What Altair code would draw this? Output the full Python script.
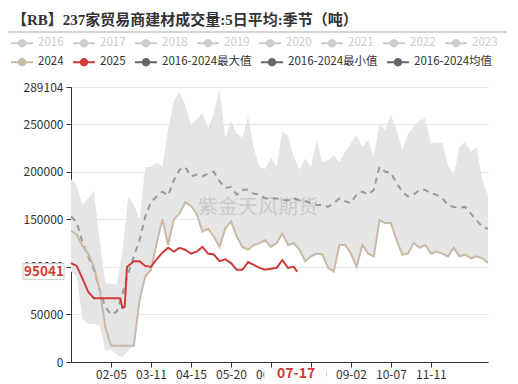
import altair as alt
import pandas as pd

FONT = "Noto Sans CJK SC"
TITLE_FONT = "Liberation Serif, Noto Sans CJK SC"

title_text = "【RB】237家贸易商建材成交量:5日平均:季节（吨）"
watermark = "紫金天风期货"
old_years = ["2016", "2017", "2018", "2019", "2020", "2021", "2022", "2023"]
series_names = ["2024", "2025", "2016-2024最大值", "2016-2024最小值", "2016-2024均值"]
series_colors = ["#c9b9a5", "#d13a3a", "#666666", "#666666", "#666666"]

# day index in a 366-day calendar (0 = 01-01)
days = list(range(0, 361, 5)) + [365]

max_vals = [192000, 186000, 165000, 172000, 180000, 130000, 83000, 82000, 82000, 115000,
            174000, 165000, 150000, 205000, 205000, 210000, 205000, 245000, 275000, 283000,
            270000, 250000, 255000, 262000, 245000, 262000, 286000, 235000, 254000, 240000,
            236000, 258000, 225000, 205000, 203000, 215000, 205000, 242000, 238000, 216000,
            202000, 214000, 205000, 233000, 210000, 212000, 217000, 210000, 221000, 230000,
            238000, 226000, 233000, 216000, 250000, 244000, 260000, 244000, 223000, 240000,
            247000, 254000, 256000, 230000, 231000, 230000, 207000, 196000, 226000, 231000,
            221000, 226000, 191000, 175000]

min_vals = [95000, 90000, 45000, 40000, 40000, 39000, 12000, 13000, 8000, 5000,
            12000, 17000, 60000, 90000, 97000, 125000, 150000, 123000, 150000, 156000,
            168000, 164000, 156000, 137000, 140000, 132000, 121000, 140000, 148000, 132000,
            121000, 118000, 123000, 125000, 128000, 121000, 125000, 135000, 123000, 125000,
            118000, 106000, 111000, 114000, 113000, 99000, 95000, 123000, 123000, 114000,
            100000, 123000, 114000, 111000, 149000, 146000, 146000, 128000, 113000, 114000,
            125000, 120000, 123000, 114000, 116000, 114000, 111000, 120000, 111000, 113000,
            109000, 111000, 109000, 104000]

mean_vals = [153000, 147000, 126000, 111000, 97000, 76000, 58000, 50000, 53000, 71000,
             93000, 111000, 128000, 153000, 168000, 174000, 179000, 175000, 191000, 202000,
             205000, 195000, 197000, 195000, 198000, 200000, 190000, 183000, 184000, 176000,
             181000, 181000, 177000, 176000, 172000, 172000, 172000, 170000, 170000, 172000,
             170000, 169000, 167000, 165000, 165000, 163000, 167000, 172000, 169000, 167000,
             176000, 179000, 176000, 181000, 205000, 200000, 199000, 188000, 179000, 174000,
             176000, 181000, 181000, 177000, 176000, 172000, 165000, 163000, 162000, 163000,
             156000, 149000, 142000, 140000]

y2024 = [138000, 134000, 122000, 114000, 100000, 76000, 37000, 17000, 17000, 17000,
         17000, 17000, 65000, 90000, 97000, 125000, 150000, 123000, 150000, 156000,
         168000, 164000, 156000, 137000, 140000, 132000, 121000, 140000, 148000, 132000,
         121000, 118000, 123000, 125000, 128000, 121000, 125000, 135000, 123000, 125000,
         118000, 106000, 111000, 114000, 113000, 99000, 95000, 123000, 123000, 114000,
         100000, 123000, 114000, 111000, 149000, 146000, 146000, 128000, 113000, 114000,
         125000, 120000, 123000, 114000, 116000, 114000, 111000, 120000, 111000, 113000,
         109000, 111000, 109000, 104000]

days_2025 = [0, 5, 10, 15, 20, 25, 30, 35, 40, 43, 45, 47, 49, 55, 60, 65, 70, 75, 80, 85,
             90, 95, 100, 105, 110, 115, 120, 125, 130, 135, 140, 145, 150, 155, 160, 165,
             170, 175, 180, 185, 190, 195, 198]
y2025 = [104000, 101000, 88000, 74000, 67000, 67000, 67000, 67000, 67000, 67000, 57000,
         58000, 100000, 106000, 106000, 101000, 100000, 108000, 115000, 120000,
         116000, 120000, 118000, 114000, 116000, 121000, 114000, 113000, 106000, 108000,
         104000, 97000, 97000, 105000, 102000, 99000, 97000, 98000, 99000, 107000, 99000,
         100000, 95041]

x_ticks = [35, 70, 105, 140, 175, 210, 245, 280, 315]
y_ticks = [0, 50000, 100000, 150000, 200000, 250000, 289104]
y_max = 289104
last_day = 198
last_day_label = "07-17"
last_value = 95041

TAN = "#c9b9a5"
RED = "#d13a3a"

wide = pd.DataFrame({"day": days, "max": max_vals, "min": min_vals,
                     "mean": mean_vals, "y2024": y2024})
d25 = pd.DataFrame({"day": days_2025, "v": y2025})
ptr = pd.DataFrame({"day": [last_day], "v": [last_value],
                    "lab": [str(last_value)], "xl": [last_day_label]})

xs = alt.Scale(domain=[0, 365], nice=False, zero=False)
ys = alt.Scale(domain=[0, y_max], nice=False)

x_axis = alt.Axis(values=x_ticks,
                  labelExpr="timeFormat(datetime(2024,0,1+datum.value),'%m-%d')",
                  title=None, grid=False, domainColor="#333333", tickColor="#333333",
                  tickSize=5, labelColor="#333333", labelFontSize=12, labelFont=FONT,
                  labelPadding=2, labelFlush=False)
y_axis = alt.Axis(values=y_ticks, format="d", title=None, grid=True, gridColor="#e6e6e6",
                  domainColor="#333333", tickColor="#333333", tickSize=5,
                  labelColor="#333333", labelFontSize=12, labelFont=FONT,
                  labelPadding=3, labelFlush=False)

area = alt.Chart(wide).mark_area(color="#e5e5e5", opacity=1).encode(
    x=alt.X("day:Q", scale=xs, axis=x_axis),
    y=alt.Y("max:Q", scale=ys, axis=y_axis),
    y2="min:Q",
)

mean_line = alt.Chart(wide).mark_line(color="#9a9a9a", strokeWidth=2, strokeDash=[6, 5]).encode(
    x="day:Q", y="mean:Q")
line24 = alt.Chart(wide).mark_line(color=TAN, strokeWidth=2).encode(x="day:Q", y="y2024:Q")
line25 = alt.Chart(d25).mark_line(color=RED, strokeWidth=2).encode(x="day:Q", y="v:Q")

wm = alt.Chart(pd.DataFrame({"t": [watermark]})).mark_text(
    fontSize=20, color="#999999", opacity=0.35, font=FONT).encode(
    x=alt.value(187), y=alt.value(121), text="t:N")

sym = "M-1,-0.09H1V0.09H-1Z M0.38,0A0.38,0.38,0,1,1,-0.38,0A0.38,0.38,0,1,1,0.38,0Z"

leg_old = alt.Chart(pd.DataFrame({"year": old_years})).transform_filter("false").mark_point(
    filled=True, color="#cccccc").encode(
    shape=alt.Shape("year:N", scale=alt.Scale(domain=old_years, range=[sym] * len(old_years)),
                    legend=alt.Legend(orient="none", legendX=-60, legendY=-55,
                                      direction="horizontal", title=None, symbolSize=484,
                                      symbolStrokeWidth=0, symbolOpacity=1,
                                      labelColor="#cccccc", labelFontSize=11.5, labelFont=FONT,
                                      columnPadding=9, labelOffset=5)))

leg_new = alt.Chart(pd.DataFrame({"series": series_names})).transform_filter("false").mark_point(
    filled=True).encode(
    fill=alt.Fill("series:N", scale=alt.Scale(domain=series_names, range=series_colors),
                  legend=alt.Legend(orient="none", legendX=-60, legendY=-36,
                                    direction="horizontal", title=None, symbolSize=484,
                                    symbolType=sym, symbolStrokeWidth=0, symbolOpacity=1,
                                    labelColor="#333333", labelFontSize=11.5, labelFont=FONT,
                                    columnPadding=9, labelOffset=5)))

rule = alt.Chart(pd.DataFrame({"t": [0]})).mark_rule(color="#aaaaaa", strokeWidth=1).encode(
    x=alt.value(-63), x2=alt.value(436), y=alt.value(-55))

ybox = alt.Chart(ptr).mark_rect(fill="white", stroke="#cccccc", strokeWidth=1,
                                yOffset=-8, y2Offset=8).encode(
    x=alt.value(-48), x2=alt.value(-7), y="v:Q", y2="v:Q")
ytext = alt.Chart(ptr).mark_text(color=RED, fontWeight="bold", fontSize=13.5, font=FONT,
                                 align="center", baseline="middle").encode(
    x=alt.value(-27), y="v:Q", text="lab:N")

xbox = alt.Chart(ptr).mark_rect(fill="white", xOffset=-33, x2Offset=29).encode(
    x="day:Q", x2="day:Q", y=alt.value(281), y2=alt.value(297))
xtext = alt.Chart(ptr).mark_text(color=RED, fontWeight="bold", fontSize=14, font=FONT,
                                 align="center", baseline="middle", dx=-1).encode(
    x="day:Q", y=alt.value(287), text="xl:N")

chart = alt.layer(area, mean_line, line24, line25, wm, rule, ybox, ytext, xbox, xtext,
                  leg_old, leg_new).properties(
    width=417, height=275,
    padding={"left": 63, "top": 79, "right": 22, "bottom": 22},
    autosize=alt.AutoSizeParams(type="none"),
    title=alt.TitleParams(text=title_text, anchor="start", frame="group", dx=-59,
                          font=TITLE_FONT, fontSize=15, fontWeight="bold", color="#333333"),
).configure_view(stroke="transparent")

chart.save("out.html", embed_options={"renderer": "svg", "actions": False})
